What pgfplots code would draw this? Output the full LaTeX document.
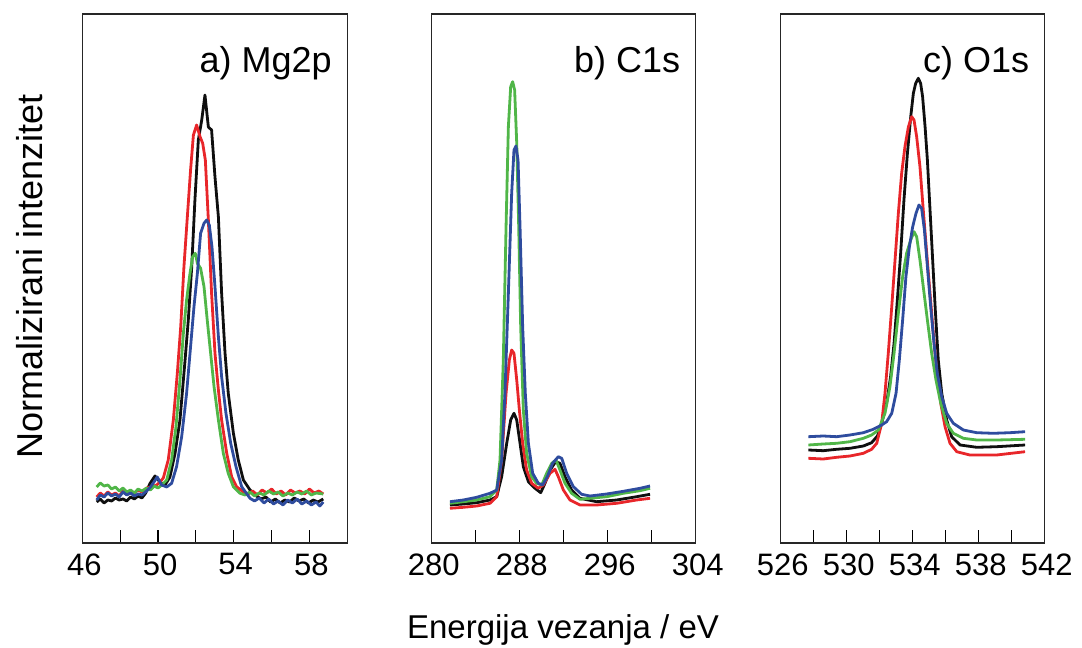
\documentclass[border=0pt]{standalone}
\usepackage{fontspec}
\setmainfont{Liberation Sans}
\usepackage{pgfplots}
\pgfplotsset{compat=1.18}
\definecolor{cblack}{RGB}{15,15,15}
\definecolor{cred}{RGB}{232,38,42}
\definecolor{cgreen}{RGB}{80,182,72}
\definecolor{cblue}{RGB}{46,76,158}
\pgfplotsset{xps/.style={scale only axis, width=265pt, height=529pt, anchor=south west,
  ymin=0, ymax=529, ytick=\empty, xtick pos=lower, tick align=inside,
  major tick length=13pt, minor tick length=13pt,
  tick style={line width=1.2pt, black},
  axis line style={line width=1.3pt, black!85},
  ticklabel style={font=\fontsize{31}{35}\selectfont},
  xticklabel style={yshift=-7pt, xshift=2pt},
  /pgf/number format/assume math mode=true,
  every axis plot/.append style={line width=2.8pt, no markers, line join=round}}}
\begin{document}
\begin{tikzpicture}
\path[use as bounding box] (0,0) rectangle (1082pt,648pt);
% ---------------- a) Mg2p
\begin{axis}[xps, at={(82.3pt,105pt)}, xmin=46, xmax=60, xtick={46,50,54,58}, minor xtick={48,52,56}]
\addplot[cblack] coordinates {(46.76,41) (46.95,44) (47.15,40) (47.35,43) (47.55,42) (47.75,45) (47.95,43) (48.15,44) (48.35,42) (48.55,46) (48.75,44) (48.95,47) (49.15,45) (49.35,50) (49.58,59.7) (49.84,67) (50.10,61) (50.37,58) (50.63,66) (50.90,89.7) (51.16,123) (51.43,183) (51.60,223) (51.78,276) (51.95,343) (52.13,403) (52.31,423) (52.48,448) (52.66,416) (52.83,413) (53.01,366) (53.19,326) (53.36,250) (53.54,190) (53.71,150) (53.98,110) (54.24,83) (54.51,63) (54.86,53) (55.2,47) (55.45,44) (55.7,46) (55.95,41) (56.2,44) (56.45,40) (56.7,43) (56.95,41) (57.2,45) (57.45,42) (57.7,44) (57.95,40) (58.2,43) (58.45,41) (58.73,44)};
\addplot[cred] coordinates {(46.76,46) (46.95,50) (47.15,47) (47.35,51) (47.55,48) (47.75,50) (47.95,47) (48.15,52) (48.35,49) (48.55,51) (48.75,50) (48.95,53) (49.15,51) (49.4,55) (49.65,56) (49.93,58) (50.1,61) (50.28,65) (50.54,83) (50.81,123) (51.02,169.7) (51.20,216.3) (51.37,276.3) (51.55,326.3) (51.72,373) (51.87,408) (52.04,418) (52.22,406.3) (52.36,399.7) (52.50,383) (52.66,323) (52.83,249.7) (53.01,189.7) (53.19,153) (53.36,123) (53.63,89.7) (53.89,66.3) (54.15,56.3) (54.51,51) (54.75,49) (55.0,52) (55.25,48) (55.5,53) (55.75,50) (56.0,54) (56.25,49) (56.5,52) (56.75,48) (57.0,53) (57.25,50) (57.5,52) (57.75,49) (58.0,54) (58.25,50) (58.5,52) (58.73,49)};
\addplot[cgreen] coordinates {(46.76,56) (46.95,60) (47.15,57) (47.35,58) (47.55,54) (47.75,56) (47.95,52) (48.15,55) (48.35,51) (48.55,53) (48.75,50) (48.95,54) (49.15,52) (49.4,55) (49.6,53) (49.8,57) (50.0,55) (50.2,58) (50.46,63) (50.72,83) (50.95,116.3) (51.16,163) (51.34,209.7) (51.51,243) (51.69,269.7) (51.83,286.3) (51.97,289.7) (52.08,279.7) (52.25,274.7) (52.43,256.3) (52.60,223) (52.78,189.7) (52.96,156.3) (53.19,123) (53.45,89.7) (53.71,69.7) (53.98,56.3) (54.33,49.7) (54.6,48) (54.85,51) (55.1,47) (55.35,50) (55.6,48) (55.85,52) (56.1,49) (56.35,51) (56.6,47) (56.85,50) (57.1,48) (57.35,51) (57.6,49) (57.85,52) (58.1,48) (58.35,50) (58.73,49)};
\addplot[cblue] coordinates {(46.76,43) (46.95,48) (47.15,46) (47.35,50) (47.55,47) (47.75,49) (47.95,46) (48.15,51) (48.35,48) (48.55,50) (48.75,47) (48.95,49) (49.15,48) (49.4,52) (49.6,56) (49.75,60) (49.96,66) (50.19,58) (50.46,56) (50.72,59.7) (50.98,76.3) (51.25,106.3) (51.51,149.7) (51.72,196.3) (51.90,236.3) (52.08,269.7) (52.25,309.7) (52.43,319.7) (52.57,323) (52.71,318) (52.85,296.3) (53.01,256.3) (53.19,206.3) (53.36,166.3) (53.59,129.7) (53.84,99.7) (54.12,76.3) (54.42,56.3) (54.86,44.7) (55.1,42) (55.35,45) (55.6,40) (55.85,44) (56.1,39) (56.35,42) (56.6,38) (56.85,43) (57.1,40) (57.35,44) (57.6,39) (57.85,42) (58.1,38) (58.35,41) (58.55,37) (58.73,41)};
\node[anchor=base east, xshift=-12pt, font=\fontsize{36}{40}\selectfont] at (rel axis cs:1,0.890) {a) Mg2p};
\end{axis}
% ---------------- b) C1s
\begin{axis}[xps, at={(431.7pt,105pt)}, width=264pt, xmin=280, xmax=304, xtick={280,288,296,304}, minor xtick={284,292,300}]
\addplot[cblack] coordinates {(281.66,38) (282.88,39) (284.09,40.3) (285.30,43) (285.91,46.3) (286.36,66.3) (286.82,99.7) (287.18,123) (287.48,129.7) (287.73,123) (288.03,99.7) (288.33,76.3) (288.79,61.3) (289.39,54.7) (289.91,50.3) (290.30,59.7) (290.76,73) (291.27,81.3) (291.66,79.7) (292.12,66.3) (292.72,53) (293.48,44.7) (294.99,41.3) (296.82,43) (298.63,46.3) (299.85,48.7)};
\addplot[cred] coordinates {(281.66,34.7) (282.88,35.7) (284.09,37) (285.30,39.7) (285.91,46.3) (286.36,83) (286.76,149.7) (287.06,183) (287.27,193) (287.48,189.7) (287.73,163) (287.97,133) (288.27,99.7) (288.63,73) (289.09,59.7) (289.69,54.7) (290.15,58) (290.76,69.7) (291.21,73.7) (291.51,66.3) (291.97,53) (292.57,43) (293.48,38) (294.99,38) (296.82,39.7) (298.63,43) (299.85,44.7)};
\addplot[cgreen] coordinates {(281.66,39.7) (282.88,41.3) (284.09,43) (285.30,46.3) (285.91,53) (286.21,83) (286.51,183) (286.76,316.3) (286.97,416.3) (287.18,456.3) (287.36,461.3) (287.54,453) (287.73,399.7) (287.91,316.3) (288.09,216.3) (288.33,133) (288.63,89.7) (289.09,66.3) (289.54,59.7) (290.00,58) (290.45,69.7) (290.91,79.7) (291.30,83) (291.66,73) (292.12,59.7) (292.72,49.7) (293.48,43.7) (294.39,44.7) (295.91,46.3) (297.42,49.7) (298.94,52.3) (299.85,54.7)};
\addplot[cblue] coordinates {(281.66,41.3) (282.88,43) (284.09,45.7) (285.30,49.7) (285.91,53) (286.36,83) (286.66,149.7) (286.97,249.7) (287.27,349.7) (287.48,393) (287.66,397) (287.85,383) (288.03,316.3) (288.27,216.3) (288.51,149.7) (288.79,99.7) (289.18,69.7) (289.69,59.7) (290.09,58) (290.51,66.3) (290.99,79.7) (291.51,86.3) (291.82,84.7) (292.27,69.7) (292.88,56.3) (293.63,48.7) (294.39,47) (295.91,49) (297.42,51.7) (298.94,54.7) (299.85,57)};
\node[anchor=base east, xshift=-12pt, font=\fontsize{36}{40}\selectfont] at (rel axis cs:1,0.890) {b) C1s};
\end{axis}
% ---------------- c) O1s
\begin{axis}[xps, at={(780.7pt,105pt)}, width=264pt, xmin=526, xmax=542, xtick={526,530,534,538,542}, minor xtick={528,532,536,540}]
\addplot[cblack] coordinates {(527.68,93) (528.58,92.3) (529.39,93.7) (530.20,94.7) (531.01,97) (531.51,100.3) (531.86,107) (532.12,119.7) (532.42,139.7) (532.66,166.3) (532.87,199.7) (533.07,243) (533.27,289.7) (533.47,343) (533.68,389.7) (533.88,426.3) (534.04,449.7) (534.18,459.7) (534.34,464.7) (534.48,459.7) (534.60,446.3) (534.75,416.3) (534.89,383) (535.05,333) (535.21,283) (535.37,233) (535.55,183) (535.76,149.7) (536.06,123) (536.36,106.3) (536.87,98) (537.88,95.7) (539.09,96.3) (540.81,98)};
\addplot[cred] coordinates {(527.68,84.7) (528.58,84) (529.39,85.7) (530.20,87) (531.01,89.7) (531.51,93.7) (531.82,99.7) (532.12,119.7) (532.32,149.7) (532.52,189.7) (532.73,236.3) (532.93,283) (533.13,329.7) (533.33,369.7) (533.53,396.3) (533.74,416.3) (533.94,426.3) (534.08,423) (534.24,406.3) (534.44,376.3) (534.64,333) (534.85,289.7) (535.05,249.7) (535.25,209.7) (535.45,173) (535.70,139.7) (535.96,116.3) (536.26,99.7) (536.67,91.3) (537.47,88) (539.09,88) (540.81,91.3)};
\addplot[cgreen] coordinates {(527.68,98) (528.58,99) (529.39,99.7) (530.20,101.3) (531.01,104.7) (531.51,108) (531.92,113) (532.32,129.7) (532.62,156.3) (532.87,189.7) (533.13,229.7) (533.39,266.3) (533.63,289.7) (533.88,303) (534.08,311.3) (534.24,306.3) (534.44,283) (534.64,256.3) (534.89,223) (535.15,189.7) (535.41,163) (535.70,139.7) (536.06,119.7) (536.46,109.7) (537.07,104.7) (537.88,103) (539.09,103) (540.81,103.7)};
\addplot[cblue] coordinates {(527.68,106.3) (528.58,107) (529.39,106.3) (530.20,108) (531.01,110.3) (531.61,113.7) (532.12,118) (532.42,121.3) (532.73,129.7) (532.99,149.7) (533.19,183) (533.39,223) (533.59,266.3) (533.80,296.3) (534.00,316.3) (534.20,329.7) (534.38,338) (534.54,334.7) (534.71,313) (534.89,276.3) (535.09,236.3) (535.29,199.7) (535.49,169.7) (535.76,146.3) (536.06,129.7) (536.46,119.7) (537.07,113) (537.88,110.3) (538.89,109.7) (539.90,110.3) (540.81,111.3)};
\node[anchor=base east, xshift=-12pt, font=\fontsize{36}{40}\selectfont] at (rel axis cs:1,0.890) {c) O1s};
\end{axis}
\node[rotate=90, anchor=base, font=\fontsize{36}{40}\selectfont] at (42pt,372pt) {Normalizirani intenzitet};
\node[anchor=base, font=\fontsize{33}{38}\selectfont] at (563pt,9pt) {Energija vezanja / eV};
\end{tikzpicture}
\end{document}
